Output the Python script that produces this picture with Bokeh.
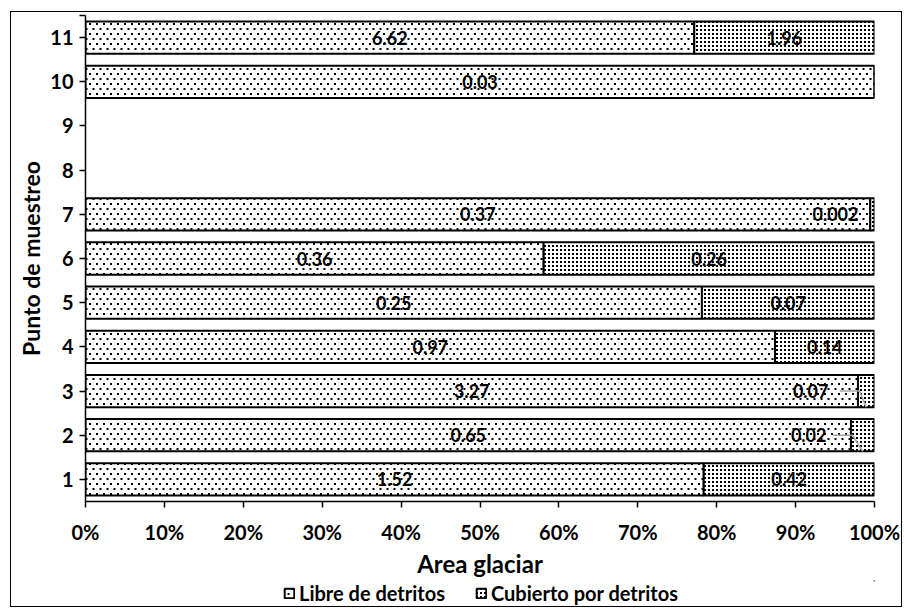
from bokeh.plotting import figure
from bokeh.layouts import column
from bokeh.models import (ColumnDataSource, FixedTicker, Legend, LegendItem,
                          Range1d, CanvasTexture)
from bokeh.core.properties import value
from bokeh.embed import file_html
from bokeh.resources import INLINE

# ---------------- data ----------------
points = [1, 2, 3, 4, 5, 6, 7, 10, 11]
libre = [1.52, 0.65, 3.27, 0.97, 0.25, 0.36, 0.37, 0.03, 6.62]
cubierto = [0.42, 0.02, 0.07, 0.14, 0.07, 0.26, 0.002, 0.0, 1.96]
libre_text = ["1.52", "0.65", "3.27", "0.97", "0.25", "0.36", "0.37", "0.03", "6.62"]
cubierto_text = ["0.42", "0.02", "0.07", "0.14", "0.07", "0.26", "0.002", "", "1.96"]
series_names = ["Libre de detritos", "Cubierto por detritos"]
y_ticks = [1, 2, 3, 4, 5, 6, 7, 8, 9, 10, 11]
x_ticks = [0, 10, 20, 30, 40, 50, 60, 70, 80, 90, 100]
x_tick_labels = ["0%", "10%", "20%", "30%", "40%", "50%", "60%", "70%", "80%", "90%", "100%"]

# ---------------- derived shares ----------------
tot = [a + b for a, b in zip(libre, cubierto)]
lib_pct = [a / t * 100 for a, t in zip(libre, tot)]

FONT = "Lato"
BAR_H = 0.73
LEFT, RIGHT, TOP, BOTTOM = 74, 27, 3, 76
FW, FH = 789, 486
TOTAL_W = LEFT + FW + RIGHT

# dotted fill textures (Excel-like "5%" and "dotted grid" patterns)
sparse_dots = CanvasTexture(repetition="repeat", code="""
ctx.canvas.width = 7; ctx.canvas.height = 10;
ctx.fillStyle = color;
ctx.fillRect(1, 1, 2, 2);
ctx.fillRect(4.5, 6, 2, 2);
""")
dense_dots = CanvasTexture(repetition="repeat", code="""
ctx.canvas.width = 4; ctx.canvas.height = 4;
ctx.fillStyle = color;
ctx.fillRect(1, 1, 2, 2);
""")
lib_style = dict(fill_color="white", line_color="black", line_width=2,
                 hatch_pattern=value("sparse"), hatch_extra={"sparse": sparse_dots},
                 hatch_color="#8a8a8a", hatch_scale=7)
cub_style = dict(fill_color="white", line_color="black", line_width=2,
                 hatch_pattern=value("dense"), hatch_extra={"dense": dense_dots},
                 hatch_color="#244a8a", hatch_scale=4)

p = figure(frame_width=FW, frame_height=FH, output_backend="svg",
           toolbar_location=None,
           x_range=Range1d(0, 100), y_range=Range1d(0.5, 11.5),
           min_border_left=LEFT, min_border_right=RIGHT, min_border_top=TOP,
           min_border_bottom=BOTTOM)
p.outline_line_color = None
p.xgrid.grid_line_color = None
p.ygrid.grid_line_color = None
p.background_fill_color = "white"

src = ColumnDataSource(dict(y=points, lp=lib_pct, zero=[0] * len(points),
                            full=[100] * len(points)))

p.hbar(y="y", left="zero", right="lp", height=BAR_H, source=src, **lib_style)
p.hbar(y="y", left="lp", right="full", height=BAR_H, source=src, **cub_style)

LBL = "18px"
# labels for the "libre" segments (centered)
lx = [v / 2 for v in lib_pct]
p.text(x=lx, y=points, text=libre_text, text_align="center",
       text_baseline="middle", text_font=value(FONT), text_font_style="bold",
       text_font_size=LBL, text_color="black")

# labels for the "cubierto" segments
small = {7: -16, 3: -46, 2: -48}   # labels placed to the left (pixel offsets)
leader_rows = [3, 2]
cx, cy, ct = [], [], []
sx, sy, st, so = [], [], [], []
for y, lp, txt in zip(points, lib_pct, cubierto_text):
    if not txt:
        continue
    if y in small:
        sx.append(100); sy.append(y); st.append(txt); so.append(small[y])
    else:
        cx.append((lp + 100) / 2); cy.append(y); ct.append(txt)
p.text(x=cx, y=cy, text=ct, text_align="center", text_baseline="middle",
       text_font=value(FONT), text_font_style="bold", text_font_size=LBL,
       text_color="black")
p.text(x=sx, y=sy, text=st, x_offset=so, text_align="right",
       text_baseline="middle", text_font=value(FONT), text_font_style="bold",
       text_font_size=LBL, text_color="black")

lxs, lys = [], []
for y, lp in zip(points, lib_pct):
    if y in leader_rows:
        lxs.append([lp - 2.3, lp + 0.2, (lp + 100) / 2])
        lys.append([y, y, y - BAR_H / 2])
p.multi_line(xs=lxs, ys=lys, line_color="#a6a6a6", line_width=1.5)

# axes
p.xaxis.ticker = FixedTicker(ticks=x_ticks)
p.xaxis.major_label_overrides = {t: l for t, l in zip(x_ticks, x_tick_labels)}
p.yaxis.ticker = FixedTicker(ticks=y_ticks + [11.5])
p.yaxis.major_label_overrides = {11.5: ""}
for ax in (p.xaxis[0], p.yaxis[0]):
    ax.axis_line_color = "black"
    ax.axis_line_width = 1.5
    ax.major_tick_line_color = "black"
    ax.major_tick_line_width = 1.5
    ax.major_tick_out = 6
    ax.major_tick_in = 0
    ax.minor_tick_line_color = None
    ax.major_label_text_font = FONT
    ax.major_label_text_font_style = "bold"
    ax.major_label_text_font_size = "20px"
    ax.major_label_text_color = "black"
    ax.axis_label_text_font = FONT
    ax.axis_label_text_font_style = "bold"
    ax.axis_label_text_font_size = "23px"
    ax.axis_label_text_color = "black"
p.xaxis.axis_label = "Area glaciar"
p.xaxis.axis_label_text_font_size = "24px"
p.yaxis.axis_label = "Punto de muestreo"
p.xaxis.major_label_standoff = 12
p.yaxis.major_label_standoff = 6
p.xaxis.axis_label_standoff = 2
p.yaxis.axis_label_standoff = 2

# ---------------- legend strip ----------------
leg = figure(width=TOTAL_W, height=26, output_backend="svg",
             toolbar_location=None, x_range=Range1d(0, 1), y_range=Range1d(0, 1),
             x_axis_location=None, y_axis_location=None,
             min_border=0, min_border_left=0, min_border_right=0,
             min_border_top=0, min_border_bottom=0)
leg.grid.visible = False
leg.outline_line_color = None
# legend key renderers: one off-screen bar each so the key swatch is drawn
g_lib = leg.hbar(y=[5], left=[5], right=[6], height=1, **lib_style)
g_cub = leg.hbar(y=[5], left=[5], right=[6], height=1, **cub_style)
legend = Legend(items=[LegendItem(label=series_names[0], renderers=[g_lib]),
                       LegendItem(label=series_names[1], renderers=[g_cub])],
                orientation="horizontal", location=(198, 1),
                label_text_font=FONT, label_text_font_style="bold",
                label_text_font_size="20px", label_text_color="black",
                glyph_width=12, glyph_height=12, spacing=30,
                label_standoff=4, border_line_color=None,
                background_fill_alpha=0, padding=0, margin=0)
leg.add_layout(legend, "center")

layout = column(p, leg, spacing=0,
                styles={"margin-left": "10px", "margin-top": "11px",
                        "border": "1.5px solid black"})

open("out.html", "w").write(file_html(layout, INLINE))
